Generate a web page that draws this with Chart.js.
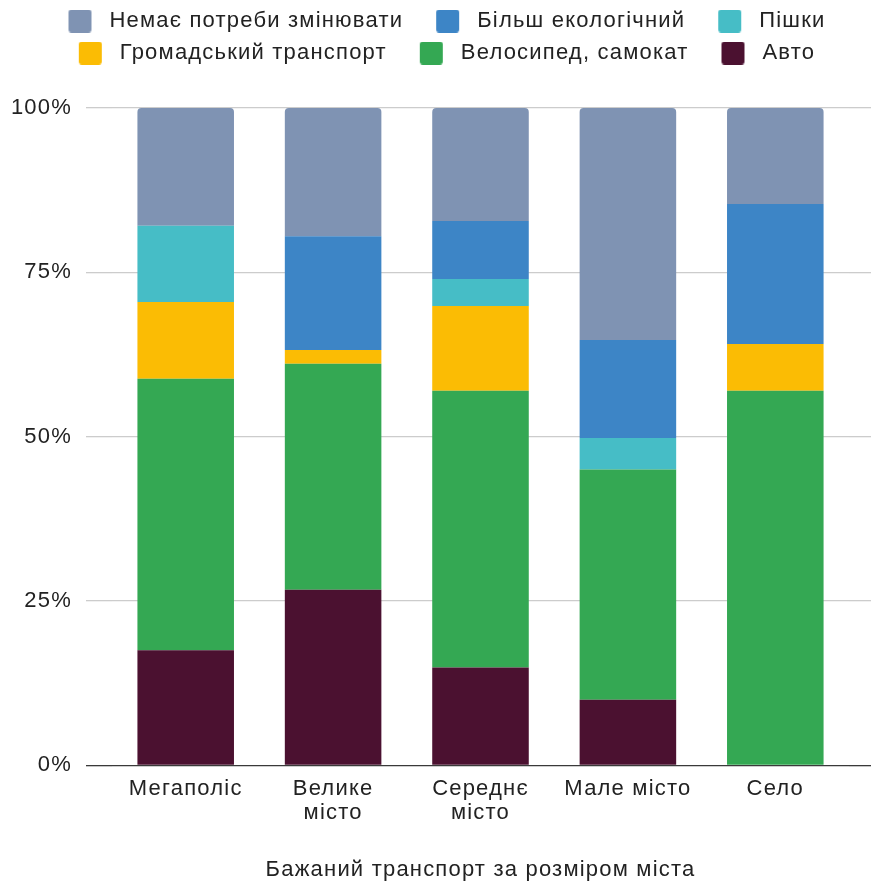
<!DOCTYPE html>
<html>
<head>
<meta charset="utf-8">
<script src="https://cdn.jsdelivr.net/npm/chart.js@4/dist/chart.umd.min.js"></script>
<style>
  html, body { margin: 0; padding: 0; background: #ffffff; }
  #wrap { width: 871px; height: 882px; position: relative; }
</style>
</head>
<body>
<div id="wrap"><canvas id="c" width="871" height="882"></canvas></div>
<script>
// ---- Data (percent of respondents) ----
const categories = ['Мегаполіс', ['Велике', 'місто'], ['Середнє', 'місто'], 'Мале місто', 'Село'];
const avto      = [17.5, 26.7, 14.9, 10.0, 0];
const velosyped = [41.3, 34.4, 42.1, 35.0, 57.0];
const hromadskyi = [11.7, 2.1, 12.9, 0, 7.1];
const pishky    = [11.6, 0, 4.1, 4.8, 0];
const ekolohichnyi = [0, 17.3, 8.8, 14.9, 21.3];
const nemaie    = [17.9, 19.5, 17.2, 35.3, 14.6];
const yTicks = [0, 25, 50, 75, 100];
const axisTitle = 'Бажаний транспорт за розміром міста';

const FONT = "'Liberation Sans', Arial, sans-serif";
const LETTER_SPACING = '1.2px';

// wider letter spacing for all text, as in the reference rendering
(function () {
  const proto = CanvasRenderingContext2D.prototype;
  const desc = Object.getOwnPropertyDescriptor(proto, 'font');
  Object.defineProperty(proto, 'font', {
    configurable: true,
    get() { return desc.get.call(this); },
    set(v) { desc.set.call(this, v); if ('letterSpacing' in this) this.letterSpacing = LETTER_SPACING; }
  });
})();

const colors = {
  avto: '#4b1130',
  velo: '#34a853',
  hrom: '#fbbc04',
  pish: '#46bdc6',
  eko: '#3d85c6',
  nem: '#7f93b3'
};

const SW_W = 53, SW_L = 23, SW_S = 23;
function legendSwatch(color) {
  const c = document.createElement('canvas');
  c.width = SW_W; c.height = SW_S;
  const g = c.getContext('2d');
  g.fillStyle = color;
  const x = SW_L, y = 0, w = SW_S, h = SW_S, r = 3;
  g.beginPath();
  g.moveTo(x + r, y);
  g.lineTo(x + w - r, y); g.quadraticCurveTo(x + w, y, x + w, y + r);
  g.lineTo(x + w, y + h - r); g.quadraticCurveTo(x + w, y + h, x + w - r, y + h);
  g.lineTo(x + r, y + h); g.quadraticCurveTo(x, y + h, x, y + h - r);
  g.lineTo(x, y + r); g.quadraticCurveTo(x, y, x + r, y);
  g.closePath(); g.fill();
  return c;
}

const gridColor = (ctx) => (ctx.tick && ctx.tick.value === 0) ? '#3a3a3a' : '#cccccc';

const datasets = [
  { label: 'Авто', data: avto, backgroundColor: colors.avto },
  { label: 'Велосипед, самокат', data: velosyped, backgroundColor: colors.velo },
  { label: 'Громадський транспорт', data: hromadskyi, backgroundColor: colors.hrom },
  { label: 'Пішки', data: pishky, backgroundColor: colors.pish },
  { label: 'Більш екологічний', data: ekolohichnyi, backgroundColor: colors.eko },
  { label: 'Немає потреби змінювати', data: nemaie, backgroundColor: colors.nem,
    borderRadius: { topLeft: 4, topRight: 4, bottomLeft: 0, bottomRight: 0 }, borderSkipped: false }
];
datasets.forEach(d => { d.pointStyle = legendSwatch(d.backgroundColor); d.borderWidth = 0; d.yAxisID = 'y'; });

const legendGap = {
  id: 'legendGap',
  beforeInit(chart) {
    const legend = chart.legend;
    if (!legend) return;
    const fit = legend.fit;
    legend.fit = function () { fit.call(this); this.height += 34; };
  }
};

new Chart(document.getElementById('c'), {
  type: 'bar',
  data: { labels: categories, datasets },
  plugins: [legendGap],
  options: {
    responsive: false,
    animation: false,
    devicePixelRatio: 1,
    layout: { padding: { top: 0, left: 0, right: 0, bottom: 0 } },
    datasets: { bar: { categoryPercentage: 1.0, barPercentage: 0.655 } },
    plugins: {
      legend: {
        position: 'top',
        reverse: true,
        labels: {
          usePointStyle: true,
          pointStyleWidth: SW_W,
          font: { family: FONT, size: 22 },
          color: '#222222',
          padding: 10
        }
      },
      title: { display: false },
      tooltip: { enabled: false }
    },
    scales: {
      x: {
        stacked: true,
        grid: { display: false, drawTicks: false },
        border: { display: false },
        ticks: { font: { family: FONT, size: 22, lineHeight: 1.1 }, color: '#222222', padding: 11, maxRotation: 0, autoSkip: false },
        title: { display: true, text: axisTitle, font: { family: FONT, size: 22, lineHeight: 1.1 }, color: '#222222', padding: { top: 22, bottom: 0 } }
      },
      y: {
        stacked: true,
        min: 0, max: 100,
        afterBuildTicks: (s) => { s.ticks = yTicks.map(v => ({ value: v })); },
        afterFit: (s) => { s.width = 112; },
        grid: { color: gridColor, lineWidth: 1.3, tickLength: 26, drawTicks: true },
        border: { display: false },
        ticks: { font: { family: FONT, size: 22 }, color: '#222222', padding: 14, callback: (v) => v + '%' }
      },
      y2: {
        position: 'right',
        min: 0, max: 100,
        afterBuildTicks: (s) => { s.ticks = yTicks.map(v => ({ value: v })); },
        grid: { color: gridColor, lineWidth: 1.3, tickLength: 22, drawOnChartArea: false, drawTicks: true },
        border: { display: false },
        ticks: { display: false }
      }
    }
  }
});
</script>
</body>
</html>
